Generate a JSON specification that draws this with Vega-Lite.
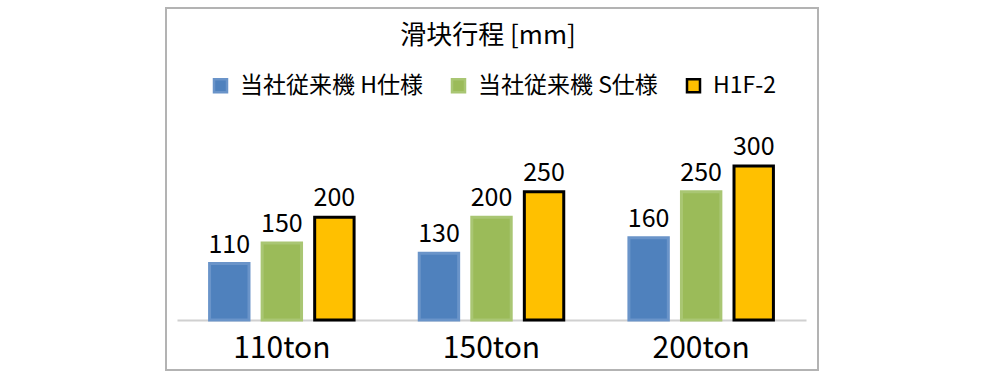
{
  "$schema": "https://vega.github.io/schema/vega-lite/v6.json",
  "autosize": {"type": "none"},
  "padding": {"left": 166, "top": 8, "right": 181, "bottom": 5},
  "width": 652,
  "height": 362,
  "background": "white",
  "title": {
    "text": "滑块行程 [mm]",
    "orient": "top",
    "anchor": "middle",
    "offset": 0,
    "dy": 62,
    "dx": -4,
    "baseline": "alphabetic",
    "font": "Noto Sans CJK JP",
    "fontSize": 26,
    "fontWeight": "normal",
    "color": "#000000"
  },
  "data": {
    "values": [
      {"ton": "110ton", "series": "当社従来機 H仕様", "value": 110},
      {"ton": "110ton", "series": "当社従来機 S仕様", "value": 150},
      {"ton": "110ton", "series": "H1F-2", "value": 200},
      {"ton": "150ton", "series": "当社従来機 H仕様", "value": 130},
      {"ton": "150ton", "series": "当社従来機 S仕様", "value": 200},
      {"ton": "150ton", "series": "H1F-2", "value": 250},
      {"ton": "200ton", "series": "当社従来機 H仕様", "value": 160},
      {"ton": "200ton", "series": "当社従来機 S仕様", "value": 250},
      {"ton": "200ton", "series": "H1F-2", "value": 300}
    ]
  },
  "encoding": {
    "x": {
      "field": "ton",
      "type": "nominal",
      "sort": ["110ton", "150ton", "200ton"],
      "scale": {"range": [11, 640], "paddingInner": 0, "paddingOuter": 0},
      "axis": {
        "title": null,
        "orient": "bottom",
        "offset": -50,
        "labelAngle": 0,
        "ticks": false,
        "labelFont": "Noto Sans CJK JP",
        "labelFontSize": 30,
        "labelColor": "#000000",
        "labelBaseline": "alphabetic",
        "labelPadding": 37,
        "domainColor": "#D0D0D0",
        "domainWidth": 2,
        "grid": false
      }
    },
    "xOffset": {
      "field": "series",
      "type": "nominal",
      "sort": ["当社従来機 H仕様", "当社従来機 S仕様", "H1F-2"],
      "scale": {"paddingInner": 0.25, "paddingOuter": 0.62}
    },
    "y": {
      "field": "value",
      "type": "quantitative",
      "stack": null,
      "scale": {"domain": [-97.5, 608], "nice": false, "zero": false},
      "axis": null
    }
  },
  "layer": [
    {
      "mark": {"type": "bar", "strokeWidth": 3},
      "encoding": {
        "fill": {
          "field": "series",
          "type": "nominal",
          "sort": ["当社従来機 H仕様", "当社従来機 S仕様", "H1F-2"],
          "scale": {
            "domain": ["当社従来機 H仕様", "当社従来機 S仕様", "H1F-2"],
            "range": ["#4F81BD", "#9BBB59", "#FFC000"]
          },
          "legend": {"title": null}
        },
        "stroke": {
          "field": "series",
          "type": "nominal",
          "sort": ["当社従来機 H仕様", "当社従来機 S仕様", "H1F-2"],
          "scale": {
            "domain": ["当社従来機 H仕様", "当社従来機 S仕様", "H1F-2"],
            "range": ["#6A94C9", "#A9C673", "#000000"]
          },
          "legend": {"title": null}
        }
      }
    },
    {
      "mark": {
        "type": "text",
        "baseline": "alphabetic",
        "align": "center",
        "dy": -11,
        "font": "Noto Sans CJK JP",
        "fontSize": 25,
        "color": "#000000"
      },
      "encoding": {
        "text": {"field": "value", "type": "quantitative"}
      }
    }
  ],
  "config": {
    "view": {"stroke": "#B3B3B3", "strokeWidth": 2},
    "legend": {
      "orient": "none",
      "legendX": 43,
      "legendY": 66,
      "direction": "horizontal",
      "padding": 0,
      "symbolType": "square",
      "symbolSize": 169,
      "symbolStrokeWidth": 2.5,
      "labelFont": "Noto Sans CJK JP",
      "labelFontSize": 23,
      "labelColor": "#000000",
      "labelOffset": 8,
      "columnPadding": 24,
      "labelLimit": 400
    }
  }
}
